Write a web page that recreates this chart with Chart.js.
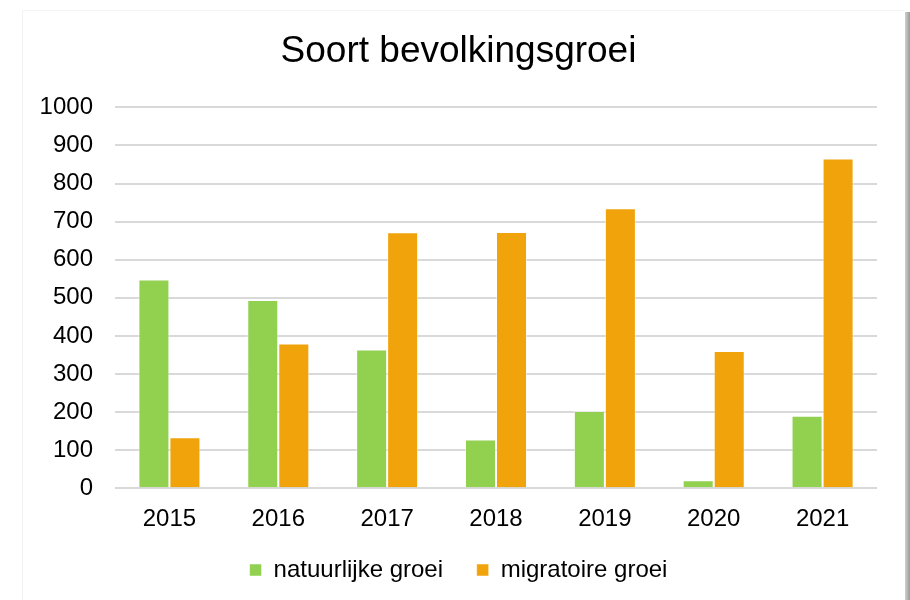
<!DOCTYPE html>
<html>
<head>
<meta charset="utf-8">
<script src="https://cdn.jsdelivr.net/npm/chart.js@4/dist/chart.umd.min.js"></script>
<style>
  html, body { margin: 0; padding: 0; background: #fff; }
  #page { position: relative; width: 910px; height: 600px; overflow: hidden; background: #fff; }
  #frame {
    position: absolute; left: 22px; top: 10px; width: 883px; height: 600px;
    border-left: 1px solid #f2f2f2; border-top: 1px solid #f4f4f4;
    box-sizing: border-box;
  }
  #shade {
    position: absolute; left: 905px; top: 12px; width: 5px; height: 600px;
    background: linear-gradient(to right, #d0d0d0, #9a9a9a);
  }
  #wrap { position: absolute; left: 22px; top: 10px; width: 883px; height: 590px; }
</style>
</head>
<body>
<div id="page">
  <div id="frame"></div>
  <div id="shade"></div>
  <div id="wrap"><canvas id="groeiChart"></canvas></div>
</div>
<script>
// jaren en waarden
const jaren = ['2015', '2016', '2017', '2018', '2019', '2020', '2021'];
const natuurlijk = [548, 494, 364, 128, 203, 21, 190];
const migratoir = [134, 380, 672, 673, 735, 360, 866];

const font = 'Liberation Sans, Arial, sans-serif';

const data = {
    labels: jaren,
    datasets: [{
        label: 'natuurlijke groei',
        data: natuurlijk,
        backgroundColor: '#92D050',
        borderColor: 'rgba(255,255,255,0.5)',
        borderWidth: 1
    }, {
        label: 'migratoire groei',
        data: migratoir,
        backgroundColor: '#F0A30A',
        borderColor: 'rgba(255,255,255,0.5)',
        borderWidth: 1
    }]
};

const config = {
    type: 'bar',
    data: data,
    options: {
        responsive: true,
        maintainAspectRatio: false,
        animation: false,
        datasets: {
            bar: { barPercentage: 1.0, categoryPercentage: 0.57 }
        },
        layout: {
            padding: { left: 18, right: 28, top: 0, bottom: 8 }
        },
        plugins: {
            title: {
                display: true,
                text: 'Soort bevolkingsgroei',
                color: '#000',
                font: { family: font, size: 37, weight: 'normal' },
                padding: { top: 20, bottom: 33 }
            },
            legend: {
                position: 'bottom',
                labels: {
                    color: '#000',
                    font: { family: font, size: 24 },
                    boxWidth: 12,
                    boxHeight: 12,
                    padding: 7,
                    generateLabels: (chart) => {
                        const items = Chart.defaults.plugins.legend.labels.generateLabels(chart);
                        // wat extra ruimte tussen de twee items
                        items[0].text = items[0].text + '    ';
                        return items;
                    }
                }
            },
            tooltip: { enabled: false }
        },
        scales: {
            x: {
                grid: { display: false, drawTicks: false },
                border: { display: false },
                ticks: { color: '#000', font: { family: font, size: 24 }, padding: 17 }
            },
            y: {
                min: 0,
                max: 1000,
                afterFit: (scale) => { scale.width = 75; },
                grid: { color: '#d9d9d9', lineWidth: 2, drawTicks: false },
                border: { display: false },
                ticks: {
                    stepSize: 100,
                    color: '#000',
                    font: { family: font, size: 24 },
                    padding: 22,
                    callback: (v) => String(v)
                }
            }
        }
    }
};

const chart = new Chart(document.getElementById('groeiChart'), config);
</script>
</body>
</html>
